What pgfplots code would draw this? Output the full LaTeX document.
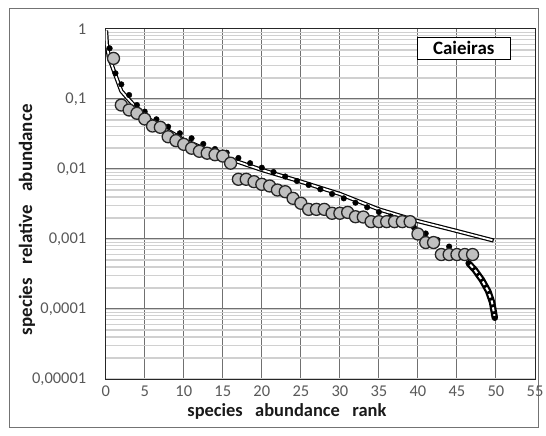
\documentclass[border=0pt]{standalone}
\usepackage{pgfplots}
\pgfplotsset{compat=1.18}
\usepackage{fontspec}
\setmainfont{Carlito}
\definecolor{ticklab}{HTML}{595959}
\definecolor{majgrid}{HTML}{707070}
\definecolor{mingrid}{HTML}{D0D0D0}
\definecolor{circfill}{HTML}{C0C0C0}
\definecolor{circedge}{HTML}{262626}
\begin{document}
\begin{tikzpicture}[x=1bp,y=1bp]
\useasboundingbox (0,0) rectangle (546,436);
\fill[white] (0,0) rectangle (546,436);
\draw[black!55, line width=1bp] (9,8) rectangle (538,427);
\begin{axis}[
  at={(105.7bp,57bp)}, anchor=south west,
  scale only axis, width=429.3bp, height=350bp,
  xmin=0, xmax=55, ymin=1e-5, ymax=1,
  ymode=log,
  xtick={0,5,...,55},
  ytick={1e-5,1e-4,1e-3,1e-2,1e-1,1},
  yticklabels={{0,00001},{0,0001},{0,001},{0,01},{0,1},{1}},
  /pgf/number format/assume math mode=true,
  tick style={draw=none},
  major tick length=0pt, minor tick length=0pt,
  xmajorgrids, ymajorgrids, yminorgrids,
  major grid style={majgrid, line width=1bp},
  minor grid style={mingrid, line width=1.3bp},
  axis line style={black!85, line width=1bp},
  ticklabel style={font=\fontsize{16.5}{18}\selectfont, text=ticklab},
  xticklabel style={yshift=-3bp},
  yticklabel style={xshift=-16bp},
  xlabel={species\hspace{0.45em} abundance\hspace{0.45em} rank},
  ylabel={species\hspace{0.5em} relative\hspace{0.5em} abundance},
  xlabel style={at={(axis description cs:0.422,-0.0914)}, anchor=center, font=\fontsize{18.5}{20}\selectfont\bfseries, text=black!90},
  ylabel style={at={(axis description cs:-0.1833,0.455)}, anchor=center, font=\fontsize{19}{21}\selectfont\bfseries, text=black!90},
  clip=true,
]
% fitted model curve (double line)
\addplot[black, line width=4.2bp, line join=round] table {
x y
0.05 0.95
0.15 0.6
0.4 0.4
1 0.26
2 0.13
3 0.097
5 0.056
7.5 0.038
10 0.026
15 0.015
20 0.0097
25 0.0066
30 0.0044
35 0.00265
40 0.0018
45 0.0013
49.7 0.00095
};
\addplot[white, line width=1.8bp, line join=round, shorten >=1.2bp] table {
x y
0.05 0.95
0.15 0.6
0.4 0.4
1 0.26
2 0.13
3 0.097
5 0.056
7.5 0.038
10 0.026
15 0.015
20 0.0097
25 0.0066
30 0.0044
35 0.00265
40 0.0018
45 0.0013
49.7 0.00095
};
% model points (black dots)
\addplot[only marks, mark=*, mark size=2.8bp, black] table {
x y
0.5 0.53
1.25 0.233
2 0.162
3 0.114
4 0.082
5 0.066
6.5 0.0513
8 0.0402
9.5 0.0324
11 0.0275
12.5 0.0228
14 0.0193
15.5 0.0171
17 0.01436
18.5 0.0121
20 0.01044
21.5 0.00906
23 0.00781
24.5 0.00674
26 0.00591
27.5 0.00513
29 0.0044
30.5 0.00381
32 0.0033
33.5 0.00284
35 0.00243
36.5 0.0021
38 0.0018
39.5 0.00146
41 0.0012
42.5 0.00097
44 0.00078
45.5 0.00063
};
% tail (thick black with white dashes)
\addplot[black, line width=6.5bp, line cap=round, line join=round] table {
x y
46.5 0.00045
47.3 0.00036
48.2 0.00026
49 0.00018
49.5 0.000125
49.85 0.000075
};
\addplot[white, line width=2bp, dash pattern=on 4bp off 3bp] table {
x y
46.7 0.00043
47.3 0.00036
48.2 0.00026
49 0.00018
49.5 0.000125
49.8 0.00008
};
% observed (grey circles)
\addplot[only marks, mark=*, mark size=6bp, mark options={fill=circfill, draw=circedge, line width=1.3bp}] table {
x y
1 0.38
2 0.082
3 0.0697
4 0.0625
5 0.0518
6 0.0411
7 0.0394
8 0.0289
9 0.0254
10 0.0225
11 0.0198
12 0.0179
13 0.0168
14 0.016
15 0.0153
16 0.0121
17 0.00713
18 0.00713
19 0.00659
20 0.00604
21 0.00572
22 0.00501
23 0.00474
24 0.00381
25 0.00324
26 0.00265
27 0.00265
28 0.00265
29 0.00233
30 0.00233
31 0.0024
32 0.00208
33 0.00206
34 0.00177
35 0.00177
36 0.00177
37 0.00177
38 0.00177
39 0.00177
40 0.00118
41 0.00089
42 0.00089
43 0.0006
44 0.0006
45 0.0006
46 0.0006
47 0.0006
};
\node[draw=black, line width=1.3bp, fill=white, inner xsep=12bp, inner ysep=3bp, minimum width=93bp, minimum height=22bp, font=\fontsize{19}{21}\selectfont\bfseries] at (rel axis cs:0.834,0.945) {Caieiras};
\end{axis}
\end{tikzpicture}
\end{document}
